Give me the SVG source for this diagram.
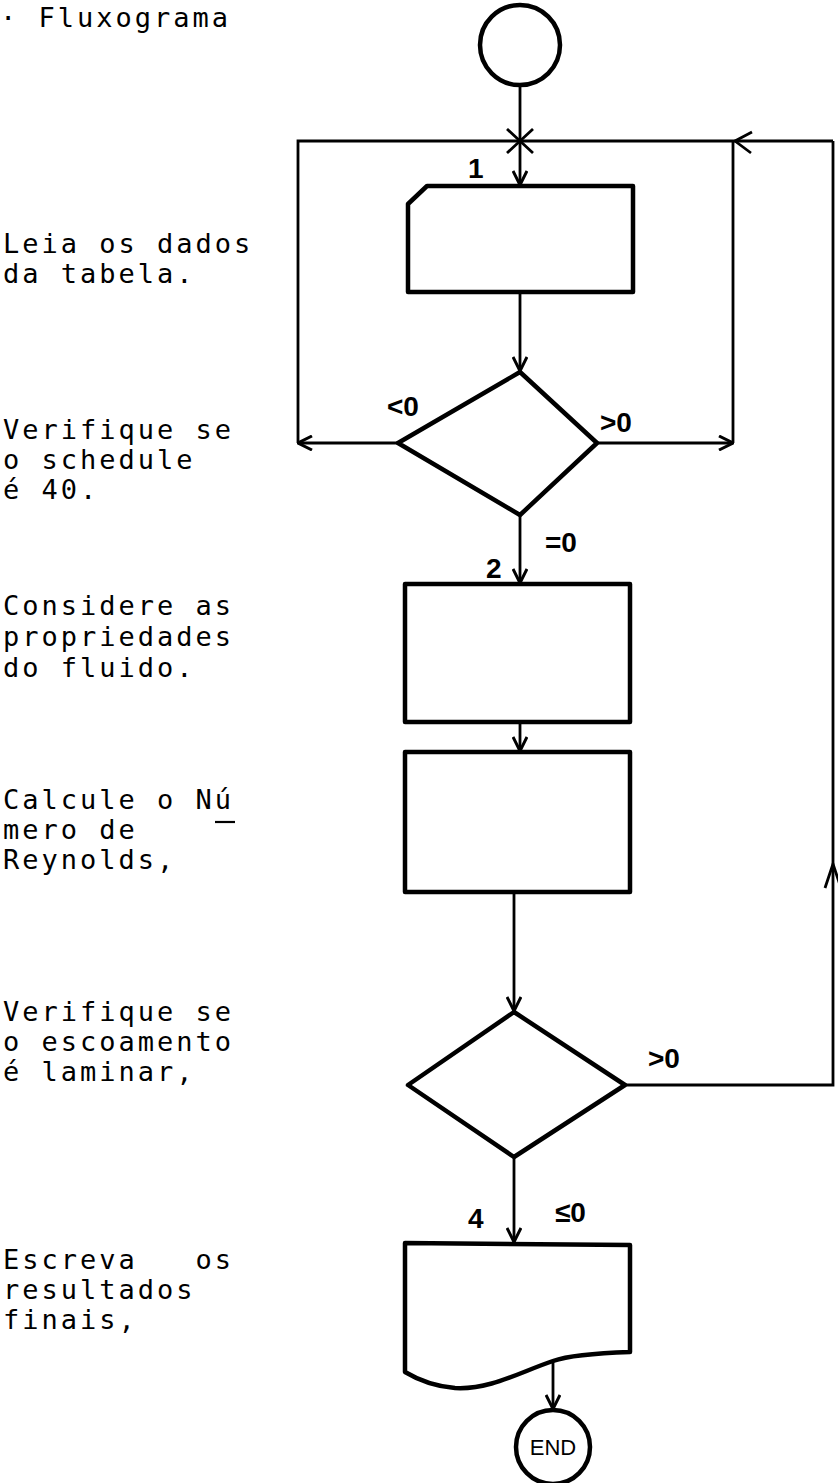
<svg xmlns="http://www.w3.org/2000/svg" width="838" height="1483" viewBox="0 0 838 1483">
<style>
.bg{fill:#fff}
.shape{fill:none;stroke:#000;stroke-width:4.5;stroke-linejoin:round}
.conn{fill:none;stroke:#000;stroke-width:2.8}
.txt{font-family:"DejaVu Sans Mono","Liberation Mono",monospace;font-size:27px;letter-spacing:3px;fill:#000}
.lbl{font-family:"Liberation Sans",Arial,sans-serif;font-size:28px;font-weight:bold;fill:#000}
.end{font-family:"Liberation Sans",Arial,sans-serif;font-size:22px;fill:#000}
</style>
<defs>
<marker id="ah" viewBox="0 0 16 16" refX="15" refY="8" markerWidth="16" markerHeight="16" markerUnits="userSpaceOnUse" orient="auto">
<path d="M1,1 L15,8 L1,15" fill="none" stroke="#000" stroke-width="3"/>
</marker>
</defs>
<rect class="bg" x="0" y="0" width="838" height="1483"/>

<g id="texts">
<text class="txt" x="0" y="27">· Fluxograma</text>
<text class="txt" x="3" y="253">Leia os dados</text>
<text class="txt" x="3" y="283">da tabela.</text>
<text class="txt" x="3" y="439">Verifique se</text>
<text class="txt" x="3" y="469">o schedule</text>
<text class="txt" x="3" y="499">é 40.</text>
<text class="txt" x="3" y="615">Considere as</text>
<text class="txt" x="3" y="646">propriedades</text>
<text class="txt" x="3" y="677">do fluido.</text>
<text class="txt" x="3" y="809">Calcule o Nú</text>
<line x1="215" y1="822" x2="235" y2="822" stroke="#000" stroke-width="2.2"/>
<text class="txt" x="3" y="839">mero de</text>
<text class="txt" x="3" y="869">Reynolds,</text>
<text class="txt" x="3" y="1021">Verifique se</text>
<text class="txt" x="3" y="1051">o escoamento</text>
<text class="txt" x="3" y="1081">é laminar,</text>
<text class="txt" x="3" y="1269" style="white-space:pre">Escreva   os</text>
<text class="txt" x="3" y="1299">resultados</text>
<text class="txt" x="3" y="1329">finais,</text>
</g>

<g id="start"><circle class="shape" cx="520" cy="45" r="40"/></g>
<g id="read1"><path class="shape" d="M408,204 L427,186 L633,186 L633,292 L408,292 Z"/></g>
<g id="dec1"><path class="shape" d="M520,372 L597,443 L520,515 L398,443 Z"/></g>
<g id="proc2"><rect class="shape" x="405" y="584" width="225" height="138"/></g>
<g id="proc3"><rect class="shape" x="405" y="752" width="225" height="140"/></g>
<g id="dec2"><path class="shape" d="M514,1012 L625,1085 L514,1157 L408,1085 Z"/></g>
<g id="out4"><path class="shape" d="M405,1243 L630,1245 L630,1352 C600,1353 570,1355 553,1361 C520,1372 490,1390 455,1388 C430,1386 415,1378 405,1372 Z"/></g>
<g id="end"><circle class="shape" cx="553" cy="1447" r="37"/><text class="end" x="553" y="1455" text-anchor="middle">END</text></g>

<g id="connectors">
<line class="conn" x1="520" y1="85" x2="520" y2="185" marker-end="url(#ah)"/>
<path class="conn" d="M298,443 L298,141 L833,141"/>
<path class="conn" d="M507,129 L533,153 M507,153 L533,129"/>
<line class="conn" x1="520" y1="292" x2="520" y2="371" marker-end="url(#ah)"/>
<line class="conn" x1="398" y1="443" x2="298" y2="443" marker-end="url(#ah)"/>
<line class="conn" x1="597" y1="443" x2="733" y2="443" marker-end="url(#ah)"/>
<line class="conn" x1="733" y1="443" x2="733" y2="141"/>
<path class="conn" d="M752,132 L735,141 L751,153"/>
<line class="conn" x1="520" y1="515" x2="520" y2="583" marker-end="url(#ah)"/>
<line class="conn" x1="520" y1="722" x2="520" y2="751" marker-end="url(#ah)"/>
<line class="conn" x1="514" y1="892" x2="514" y2="1011" marker-end="url(#ah)"/>
<path class="conn" d="M625,1085 L833,1085 L833,141"/>
<path class="conn" d="M825,888 L833,864 L841,888"/>
<line class="conn" x1="514" y1="1157" x2="514" y2="1242" marker-end="url(#ah)"/>
<line class="conn" x1="553" y1="1361" x2="553" y2="1409" marker-end="url(#ah)"/>
</g>

<g id="labels">
<text class="lbl" x="468" y="178">1</text>
<text class="lbl" x="387" y="416">&lt;0</text>
<text class="lbl" x="600" y="432">&gt;0</text>
<text class="lbl" x="545" y="552">=0</text>
<text class="lbl" x="486" y="578">2</text>
<text class="lbl" x="648" y="1068">&gt;0</text>
<text class="lbl" x="468" y="1228">4</text>
<text class="lbl" x="555" y="1222">≤0</text>
</g>
</svg>
